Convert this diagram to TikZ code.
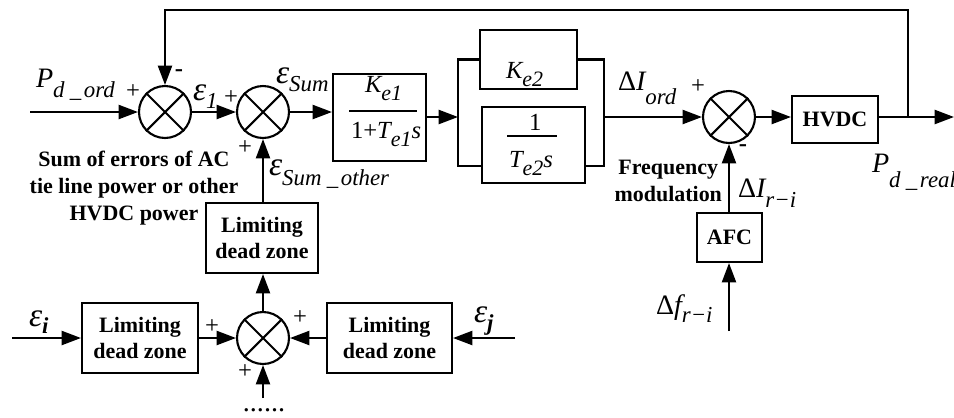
\documentclass[tikz,border=0pt]{standalone}
\usepackage{fontspec}
\setmainfont{Liberation Serif}
\usetikzlibrary{arrows.meta}
\newcommand\mainsz{\fontsize{16}{16}\selectfont}
\newcommand\subsz{\fontsize{13}{13}\selectfont}
\newcommand\epssz{\fontsize{19}{19}\selectfont}
\newcommand\lab[3]{{\mainsz\itshape #1}\raisebox{#3}{\subsz\itshape #2}}
\newcommand\labe[3]{{\epssz\itshape ε}\raisebox{#3}{\subsz\itshape #1}}
\newcommand\us{\hspace{3pt}\_\hspace{1.5pt}}
\newcommand\bsz{\fontsize{14}{14}\selectfont}
\newcommand\bsub{\fontsize{12.5}{12.5}\selectfont}
\begin{document}
\begin{tikzpicture}[x=0.02cm,y=-0.02cm,line width=1.2pt,
  sumj/.style={circle,draw,minimum size=1.04cm,inner sep=0pt},
  blk/.style={draw,inner sep=0pt,align=center,font=\bfseries\fontsize{12.5}{15.3}\selectfont},
  arr/.style={-{Triangle[length=11pt,width=8pt]}},
  tx/.style={inner sep=0pt,anchor=base west},
  sgn/.style={inner sep=0pt,font=\fontsize{14}{14}\selectfont},
  note/.style={inner sep=0pt,align=center,font=\bfseries\fontsize{12.5}{15.3}\selectfont},
  frac/.style={line width=0.7pt}]
\useasboundingbox (0,0) rectangle (954,417);
% summing junctions
\node[sumj] (s1) at (165,112) {};
\node[sumj] (s2) at (263,112) {};
\node[sumj] (s3) at (729,117) {};
\node[sumj] (s4) at (263,338) {};
\foreach \n in {s1,s2,s3,s4}{
  \draw (\n.north west) -- (\n.south east) (\n.north east) -- (\n.south west);}
% blocks
\node[blk,minimum width=1.86cm,minimum height=1.74cm] (ke1) at (379.5,117.5) {};
\node[blk,minimum width=1.94cm,minimum height=1.18cm] (ke2) at (528.5,59.5) {};
\node[blk,minimum width=2.06cm,minimum height=1.52cm] (te2) at (533.5,145) {};
\node[blk,minimum width=1.72cm,minimum height=0.94cm] (hvdc) at (835,119.5) {HVDC};
\node[blk,minimum width=1.30cm,minimum height=0.98cm] (afc) at (729.5,237.5) {AFC};
\node[blk,minimum width=2.24cm,minimum height=1.40cm] (ldzt) at (262,238) {Limiting\\dead zone};
\node[blk,minimum width=2.32cm,minimum height=1.40cm] (ldzl) at (140,338) {Limiting\\dead zone};
\node[blk,minimum width=2.50cm,minimum height=1.40cm] (ldzr) at (389.5,338) {Limiting\\dead zone};
% block contents
\node[tx] (ke1n) at (364,92) {{\bsz\itshape K}\raisebox{-5pt}{\bsub\itshape e1}};
\draw[frac] (349,111) -- (417,111);
\node[tx] (ke1d) at (350,138) {{\bsz 1+\itshape T}\raisebox{-5pt}{\bsub\itshape e1}{\bsz\itshape s}};
\node[tx] (ke2n) at (505,78) {{\bsz\itshape K}\raisebox{-5pt}{\bsub\itshape e2}};
\node[tx] (te2n) at (528,130) {\bsz 1};
\draw[frac] (507,136) -- (557,136);
\node[tx] (te2d) at (508,167) {{\bsz\itshape T}\raisebox{-5pt}{\bsub\itshape e2}{\bsz\itshape s}};
% coordinates
\coordinate (pin) at (30,112);
\coordinate (pl) at (458,117);
\coordinate (plt) at (458,59.5);
\coordinate (plb) at (458,166);
\coordinate (pr) at (604,117);
\coordinate (prt) at (604,59.5);
\coordinate (prb) at (604,166);
\coordinate (br) at (908,117);
\coordinate (out) at (954,117);
\coordinate (top1) at (908,10);
\coordinate (top2) at (165,10);
\coordinate (fin) at (729,331);
\coordinate (ein) at (12,338);
\coordinate (ejn) at (515,338);
\coordinate (dotin) at (263,398);
% connectors
\draw[arr] (pin) -- (s1.west);
\draw[arr] (s1.east) -- (s2.west);
\draw[arr] (s2.east) -- (s2.east -| ke1.west);
\draw[arr] (ke1.east |- pl) -- (pl);
\draw (ke2.west) -- (plt) -- (plb) -- (plb -| te2.west);
\draw (ke2.east) -- (prt) -- (prb) -- (prb -| te2.east);
\draw[arr] (pr) -- (s3.west);
\draw[arr] (s3.east) -- (s3.east -| hvdc.west);
\draw[arr] (hvdc.east |- out) -- (out);
\draw[arr] (br) -- (top1) -- (top2) -- (s1.north);
\draw[arr] (afc.north -| s3.south) -- (s3.south);
\draw[arr] (fin) -- (fin |- afc.south);
\draw[arr] (ldzt.north -| s2.south) -- (s2.south);
\draw[arr] (s4.north) -- (s4.north |- ldzt.south);
\draw[arr] (ein) -- (ldzl.west);
\draw[arr] (ldzl.east) -- (s4.west);
\draw[arr] (ejn) -- (ldzr.east);
\draw[arr] (ldzr.west) -- (s4.east);
\draw[arr] (dotin) -- (s4.south);
% labels
\node[tx] (lpd) at (35,87) {\lab{P}{d\us ord}{-6pt}};
\node[sgn] (p1) at (133,92) {+};
\node[sgn] (m1) at (179,73) {\bfseries -};
\node[tx] (le1) at (192,100) {\labe{1}{}{-5pt}};
\node[sgn] (p2) at (231,98) {+};
\node[tx] (lesum) at (275,83) {\labe{Sum}{}{-5pt}};
\node[sgn] (p3) at (245,148) {+};
\node[tx] (leso) at (268,175) {\labe{Sum\us other}{}{-6pt}};
\node[note] (nsum) at (134,188) {Sum of errors of AC\\tie line power or other\\HVDC power};
\node[tx] (ldio) at (617,90) {{\mainsz Δ}\lab{I}{ord}{-8pt}};
\node[sgn] (p4) at (698,87) {+};
\node[sgn] (m2) at (743,148) {\bfseries -};
\node[note,anchor=east] (nfm) at (723,181) {Frequency\\modulation};
\node[tx] (ldir) at (737,197) {{\mainsz Δ}\lab{I}{r−i}{-6pt}};
\node[tx] (ldf) at (655,314) {{\mainsz Δ}\lab{f}{r−i}{-5pt}};
\node[tx] (lpr) at (871,172) {\lab{P}{d\us real}{-9pt}};
\node[tx] (lei) at (28,326) {{\epssz\itshape ε}\raisebox{-4pt}{\subsz\bfseries\itshape i}};
\node[tx] (lej) at (473,322) {{\epssz\itshape ε}\raisebox{-5pt}{\subsz\bfseries\itshape j}};
\node[sgn] (p5) at (212,327) {+};
\node[sgn] (p6) at (300,318) {+};
\node[sgn] (p7) at (245,372) {+};
\node[sgn,anchor=base,font=\fontsize{16}{16}\selectfont] (dots) at (264,411) {......};
\end{tikzpicture}
\end{document}
